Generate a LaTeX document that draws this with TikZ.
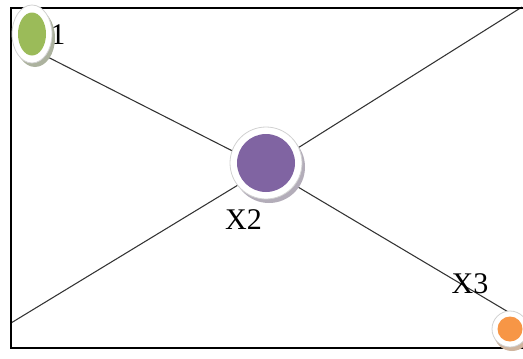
\documentclass[tikz,border=0pt]{standalone}
\usepackage{fontspec}
\setmainfont{Liberation Serif}
\usetikzlibrary{shapes.geometric,backgrounds}
\definecolor{ogreen}{HTML}{9BBB59}
\definecolor{opurple}{HTML}{8064A2}
\definecolor{oorange}{HTML}{F79646}
\tikzset{
  ring/.style={ellipse, inner sep=0pt, fill=white, draw=black!18, line width=0.6pt},
  core/.style={ellipse, inner sep=0pt, fill=#1, draw=none},
  shade/.style={ellipse, inner sep=0pt, fill=#1, draw=none},
  lbl/.style={inner sep=0pt, font=\fontsize{22.5pt}{24pt}\selectfont},
  conn/.style={draw=black!80, line width=0.8pt}
}
\begin{document}
\begin{tikzpicture}[x=0.75pt,y=-0.75pt]
\useasboundingbox (0,0) rectangle (523,358);
\draw[black, line width=1pt] (11,8) rectangle (540,348);
% coordinates for connectors
\coordinate (hub) at (266,168);
\coordinate (gEnd) at (30,48);
\coordinate (oEnd) at (510,313);
\coordinate (tr) at (522,7);
\coordinate (bl) at (11,323);
% labels
\node[lbl] (x1) at (47,35) {X1};
% green node
\node[shade=ogreen!45!black!45, minimum width=30pt, minimum height=43.5pt] at (35,38) {};
\node[ring, minimum width=30pt, minimum height=43.5pt] (green) at (32,34) {};
\node[core=ogreen, minimum width=21pt, minimum height=32.25pt] (greenin) at (green) {};
% purple node
\node[shade=opurple!50!black!40, minimum width=54pt, minimum height=54pt] at (269,167) {};
\node[ring, minimum width=54pt, minimum height=54pt] (purple) at (266,163) {};
\node[core=opurple, minimum width=43.5pt, minimum height=43.5pt] (purplein) at (purple) {};
% orange node
\node[shade=oorange!60!black!45, minimum width=27pt, minimum height=27pt] at (512,333) {};
\node[ring, minimum width=27pt, minimum height=27pt] (orange) at (510,329) {};
\node[core=oorange, minimum width=18.75pt, minimum height=18.75pt] (orangein) at (orange) {};
\node[lbl] (x2) at (243.5,220) {X2};
\node[lbl] (x3) at (470,284) {X3};
\begin{pgfonlayer}{background}
\draw[conn] (gEnd) -- (hub) -- (oEnd);
\draw[conn] (bl) -- (hub) -- (tr);
\end{pgfonlayer}
\end{tikzpicture}
\end{document}
